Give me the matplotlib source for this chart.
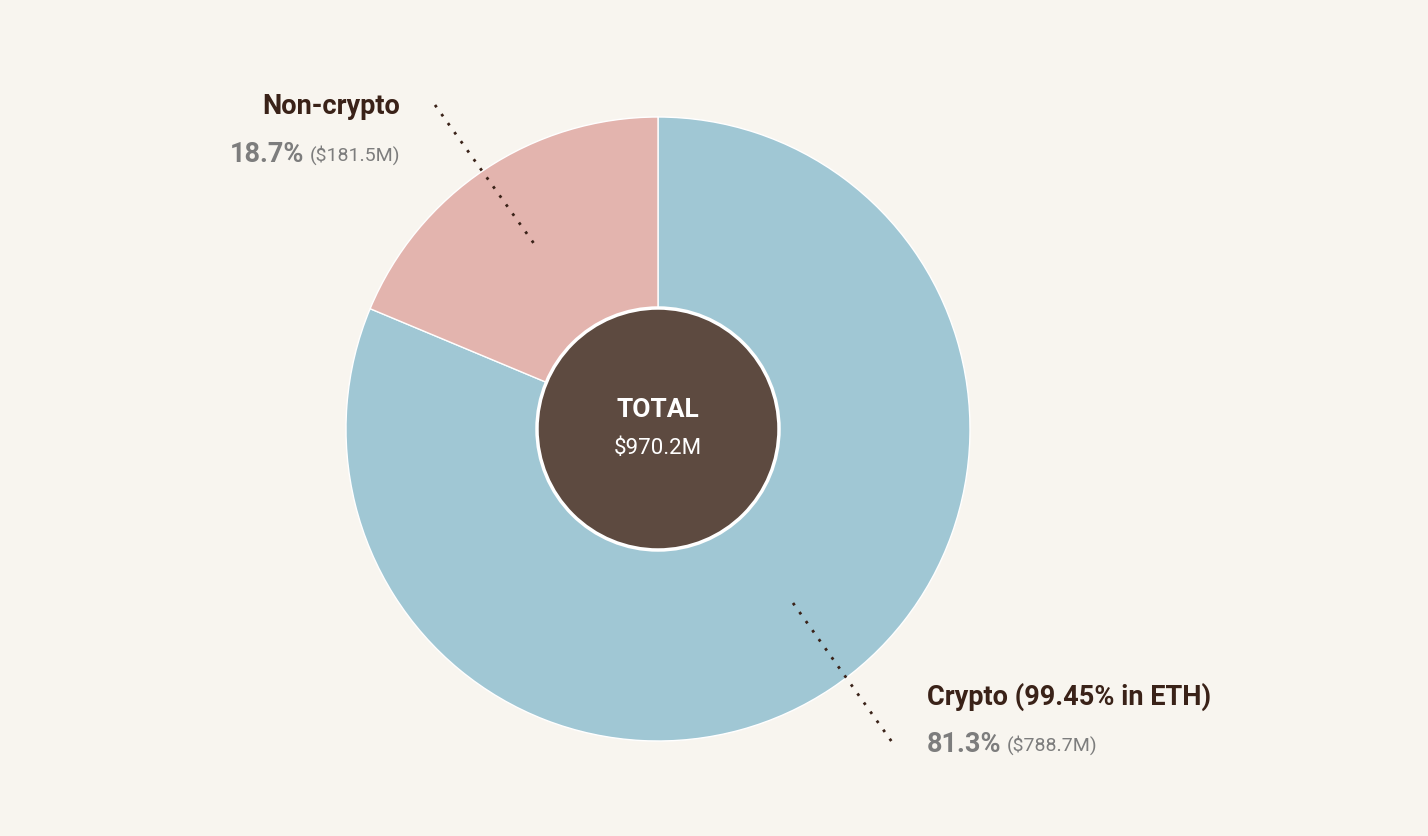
import matplotlib
matplotlib.use("Agg")
import matplotlib.pyplot as plt
from matplotlib.patches import Circle

categories = ["Crypto (99.45% in ETH)", "Non-crypto"]
shares = [81.3, 18.7]
amounts = ["$788.7M", "$181.5M"]
total_label = "$970.2M"

bg = "#f8f5ef"
colors = ["#a0c7d4", "#e3b4ae"]
dark = "#5d4a40"
txt = "#3a2218"
gray = "#7d7d7d"
FONT = "Roboto"

fig = plt.figure(figsize=(14.28, 8.36), dpi=100, facecolor=bg)
ax = fig.add_axes([0, 0, 1, 1])
ax.set_facecolor(bg)
ax.axis("off")

cx, cy, R = 658, 429, 312
ax.pie(shares, colors=colors, startangle=-90, counterclock=True, center=(cx, cy), radius=R,
       wedgeprops=dict(edgecolor="white", linewidth=1))
ax.set_xlim(0, 1428)
ax.set_ylim(836, 0)
ax.set_aspect("equal")
ax.add_patch(Circle((cx, cy), 121, facecolor=dark, edgecolor="white", linewidth=2.5, zorder=5))
ax.text(cx, 410, "TOTAL", ha="center", va="center", color="white", fontsize=19, fontweight="bold", family=FONT, zorder=6)
ax.text(cx, 449, total_label, ha="center", va="center", color="white", fontsize=16, family=FONT, zorder=6)

ax.plot([435, 535], [105, 245], linestyle=(0, (1, 3)), color=txt, linewidth=2, zorder=4)
ax.plot([793, 892], [603, 742], linestyle=(0, (1, 3)), color=txt, linewidth=2, zorder=4)

fig.canvas.draw()
r = fig.canvas.get_renderer()

def width_px(t):
    return t.get_window_extent(renderer=r).width

ax.text(400, 107, categories[1], ha="right", va="center", color=txt, fontsize=19.5, fontweight="bold", family=FONT)
t2 = ax.text(400, 155, f"({amounts[1]})", ha="right", va="center", color=gray, fontsize=14, family=FONT)
w = width_px(t2)
ax.text(400 - w - 5, 155, f"{shares[1]}%", ha="right", va="center", color=gray, fontsize=19.5, fontweight="bold", family=FONT)

ax.text(927, 697, categories[0], ha="left", va="center", color=txt, fontsize=19.5, fontweight="bold", family=FONT)
t3 = ax.text(927, 745, f"{shares[0]}%", ha="left", va="center", color=gray, fontsize=19.5, fontweight="bold", family=FONT)
w3 = width_px(t3)
ax.text(927 + w3 + 5, 745, f"({amounts[0]})", ha="left", va="center", color=gray, fontsize=14, family=FONT)

fig.savefig("out.png", dpi=100, facecolor=bg)
